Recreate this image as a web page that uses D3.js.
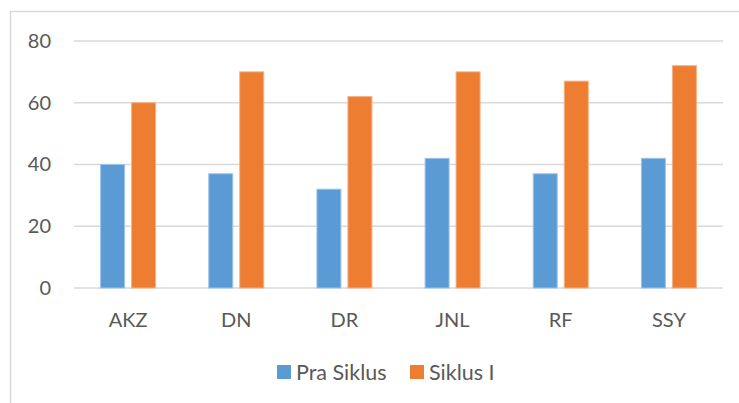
<!DOCTYPE html>
<html>
<head>
<meta charset="utf-8">
<script src="https://cdn.jsdelivr.net/npm/d3@7"></script>
<style>
  body { margin: 0; background: #fff; }
  text { font-family: Lato, "Open Sans", sans-serif; fill: #595959; }
</style>
</head>
<body>
<div id="chart"></div>
<script>
const categories = ["AKZ", "DN", "DR", "JNL", "RF", "SSY"];
const seriesNames = ["Pra Siklus", "Siklus I"];
const praSiklus = [40, 37, 32, 42, 37, 42];
const siklusI = [60, 70, 62, 70, 67, 72];
const yTicks = [0, 20, 40, 60, 80];
const colors = ["#5B9BD5", "#ED7D31"];
const strokes = ["#9DC3E6", "#F4B183"];

const W = 739, H = 403;
const margin = { top: 41, right: 16, bottom: 115, left: 74 },
  width = W - margin.left - margin.right,
  height = H - margin.top - margin.bottom;

const root = d3.select("#chart").append("svg")
  .attr("width", W)
  .attr("height", H);

// chart area border
root.append("rect")
  .attr("x", 10.5).attr("y", 11.5)
  .attr("width", W + 10).attr("height", H + 10)
  .attr("fill", "none")
  .attr("stroke", "#D9D9D9")
  .attr("stroke-width", 1.5);

const svg = root.append("g")
  .attr("transform", "translate(" + margin.left + "," + margin.top + ")");

const x = d3.scaleBand().domain(categories).range([0, width]);
const x1 = d3.scaleBand().domain(seriesNames).range([-27.5, 27.5]).paddingInner(0.226);
const y = d3.scaleLinear().domain([0, 80]).range([height, 0]);

// gridlines
svg.append("g")
  .selectAll("line")
  .data(yTicks)
  .enter()
  .append("line")
  .attr("x1", 0).attr("x2", width)
  .attr("y1", d => y(d)).attr("y2", d => y(d))
  .attr("stroke", "#D9D9D9")
  .attr("stroke-width", 1.5);

// y labels
const yAxis = d3.axisLeft(y).tickValues(yTicks).tickSize(0).tickPadding(23);
svg.append("g").call(yAxis)
  .call(g => g.select(".domain").remove())
  .selectAll("text")
  .style("font-size", "20px")
  .attr("fill", "#595959");

// x labels
const xAxis = d3.axisBottom(x).tickSize(0).tickPadding(25);
svg.append("g")
  .attr("transform", "translate(0," + height + ")")
  .call(xAxis)
  .call(g => g.select(".domain").remove())
  .selectAll("text")
  .style("font-size", "20px")
  .attr("fill", "#595959");

const data = categories.map((c, i) => ({ cat: c, vals: [praSiklus[i], siklusI[i]] }));

const groups = svg.selectAll(".grp")
  .data(data)
  .enter()
  .append("g")
  .attr("class", "grp")
  .attr("transform", d => "translate(" + (x(d.cat) + x.bandwidth() / 2) + ",0)");

groups.selectAll("rect")
  .data(d => d.vals.map((v, j) => ({ s: seriesNames[j], v: v, j: j })))
  .enter()
  .append("rect")
  .attr("x", d => x1(d.s))
  .attr("width", x1.bandwidth())
  .attr("y", d => y(d.v))
  .attr("height", d => y(0) - y(d.v))
  .attr("fill", d => colors[d.j])
  .attr("stroke", d => strokes[d.j])
  .attr("stroke-width", 1);

// legend
const legend = root.append("g").attr("transform", "translate(277,372)");
const legX = [0, 133];
seriesNames.forEach((s, i) => {
  const g = legend.append("g").attr("transform", "translate(" + legX[i] + ",0)");
  g.append("rect")
    .attr("x", 0).attr("y", -7)
    .attr("width", 14).attr("height", 14)
    .attr("fill", colors[i]);
  g.append("text")
    .attr("x", 19).attr("y", 0)
    .attr("dy", "0.35em")
    .style("font-size", "21.5px")
    .text(s);
});
</script>
</body>
</html>
